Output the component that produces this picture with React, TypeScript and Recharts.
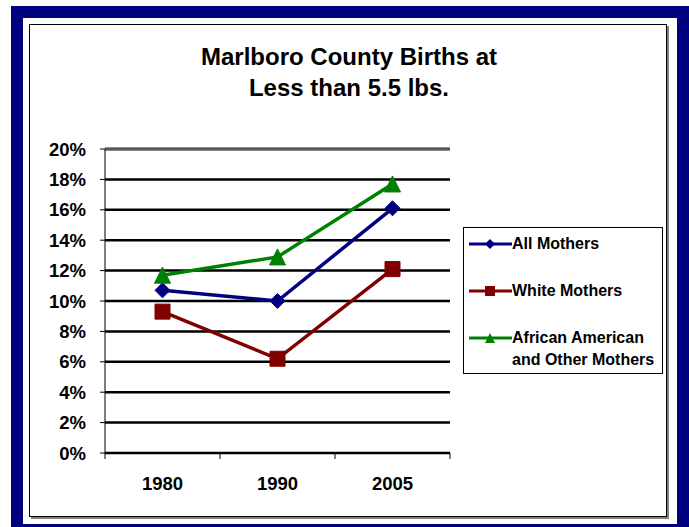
import { LineChart, Line, XAxis, YAxis, CartesianGrid, ReferenceLine } from 'recharts';

const years = ['1980', '1990', '2005'];
const allMothers = [10.7, 10.0, 16.1];
const whiteMothers = [9.3, 6.2, 12.1];
const africanAmericanMothers = [11.7, 12.9, 17.7];
const yTicks = [0, 2, 4, 6, 8, 10, 12, 14, 16, 18, 20];

const FONT = '"Liberation Sans", Arial, sans-serif';
const PLOT_LEFT = 105;
const PLOT_RIGHT = 450;
const PLOT_TOP = 149;
const PLOT_BOTTOM = 453;
const BAND = (PLOT_RIGHT - PLOT_LEFT) / years.length;

const chartData = years.map((year, i) => ({
  year,
  all: allMothers[i],
  white: whiteMothers[i],
  african: africanAmericanMothers[i],
}));

type Shape = 'diamond' | 'square' | 'triangle';

const series: { key: string; name: string[]; color: string; shape: Shape }[] = [
  { key: 'all', name: ['All Mothers'], color: '#000080', shape: 'diamond' },
  { key: 'white', name: ['White Mothers'], color: '#800000', shape: 'square' },
  { key: 'african', name: ['African American', 'and Other Mothers'], color: '#008000', shape: 'triangle' },
];

function markerPath(shape: Shape, cx: number, cy: number, r: number) {
  if (shape === 'diamond') return `M${cx},${cy - r}L${cx + r},${cy}L${cx},${cy + r}L${cx - r},${cy}Z`;
  if (shape === 'square') return `M${cx - r},${cy - r}h${2 * r}v${2 * r}h${-2 * r}Z`;
  return `M${cx},${cy - r}L${cx + r},${cy + r}L${cx - r},${cy + r}Z`;
}

function makeDot(shape: Shape, color: string, r: number) {
  return (props: any) => {
    const { cx, cy, index } = props;
    if (cx == null || cy == null) return <g key={index} />;
    return <path key={index} d={markerPath(shape, cx, cy, r)} fill={color} stroke={color} />;
  };
}

function YearTick(props: any) {
  const { x, payload } = props;
  const last = payload.value === years[years.length - 1];
  return (
    <g>
      <line x1={x - BAND / 2} x2={x - BAND / 2} y1={PLOT_BOTTOM} y2={PLOT_BOTTOM + 6} stroke="#000" />
      {last && <line x1={x + BAND / 2} x2={x + BAND / 2} y1={PLOT_BOTTOM} y2={PLOT_BOTTOM + 6} stroke="#000" />}
      <text x={x} y={PLOT_BOTTOM + 37} textAnchor="middle" fontFamily={FONT} fontWeight="bold" fontSize={18.5} fill="#000">
        {payload.value}
      </text>
    </g>
  );
}

function LegendBox() {
  const rows = [243, 290, 337];
  return (
    <div
      style={{
        position: 'absolute',
        left: 463,
        top: 227,
        width: 198,
        height: 145,
        border: '1px solid #000',
        background: '#fff',
        fontFamily: FONT,
        fontWeight: 'bold',
        fontSize: 16,
        color: '#000',
      }}
    >
      {series.map((s, i) => (
        <div key={s.key} style={{ position: 'absolute', left: 0, top: rows[i] - 227 - 11 }}>
          <svg width={46} height={20} style={{ position: 'absolute', left: 4, top: 1 }}>
            <line x1={1} x2={44} y1={10} y2={10} stroke={s.color} strokeWidth={3} />
            <path d={markerPath(s.shape, 22, 10, 5)} fill={s.color} />
          </svg>
          <div style={{ position: 'absolute', left: 48, top: 0, whiteSpace: 'nowrap', lineHeight: '22px' }}>
            {s.name.map((n) => (
              <div key={n}>{n}</div>
            ))}
          </div>
        </div>
      ))}
    </div>
  );
}

export default function App() {
  return (
    <div style={{ position: 'absolute', left: 0, top: 0, width: 689, height: 527, overflow: 'hidden', background: '#fff' }}>
      <div style={{ position: 'absolute', left: 11, top: 6, width: 700, height: 540, background: '#000080' }} />
      <div style={{ position: 'absolute', left: 23, top: 18, width: 654, height: 506, background: '#fff' }} />
      <div
        style={{
          position: 'absolute',
          left: 29,
          top: 24,
          width: 636,
          height: 491,
          border: '1px solid #000',
          boxShadow: '2px 2px 0 #808080',
          background: '#fff',
        }}
      />
      <div
        style={{
          position: 'absolute',
          left: 149,
          top: 41,
          width: 400,
          textAlign: 'center',
          fontFamily: FONT,
          fontWeight: 'bold',
          fontSize: 24,
          lineHeight: '31px',
          color: '#000',
        }}
      >
        <div>Marlboro County Births at</div>
        <div>Less than 5.5 lbs.</div>
      </div>
      <div style={{ position: 'absolute', left: 0, top: 0 }}>
        <LineChart
          width={689}
          height={527}
          data={chartData}
          margin={{ top: PLOT_TOP, right: 689 - PLOT_RIGHT, bottom: 527 - PLOT_BOTTOM - 40, left: 45 }}
        >
          <CartesianGrid vertical={false} stroke="#000" strokeWidth={2.5} />
          <XAxis
            dataKey="year"
            height={40}
            padding={{ left: BAND / 2, right: BAND / 2 }}
            axisLine={{ stroke: '#000' }}
            tickLine={false}
            tick={<YearTick />}
            interval={0}
          />
          <YAxis
            width={PLOT_LEFT - 45}
            domain={[0, 20]}
            ticks={yTicks}
            interval={0}
            tickFormatter={(v: number) => `${v}%`}
            axisLine={{ stroke: '#000' }}
            tickLine={{ stroke: '#000' }}
            tickSize={5}
            tickMargin={14}
            tick={{ fill: '#000', fontFamily: FONT, fontWeight: 'bold', fontSize: 18.5 }}
          />
          <YAxis
            yAxisId="right"
            orientation="right"
            width={0}
            domain={[0, 20]}
            tick={false}
            tickLine={false}
            axisLine={{ stroke: '#808080' }}
          />
          <ReferenceLine y={20} stroke="#5a5a5a" strokeWidth={3} />
          {series.map((s) => (
            <Line
              key={s.key}
              type="linear"
              dataKey={s.key}
              stroke={s.color}
              strokeWidth={3.5}
              dot={makeDot(s.shape, s.color, s.shape === 'triangle' ? 8 : 7.5)}
              activeDot={false}
              isAnimationActive={false}
            />
          ))}
        </LineChart>
      </div>
      <LegendBox />
    </div>
  );
}
